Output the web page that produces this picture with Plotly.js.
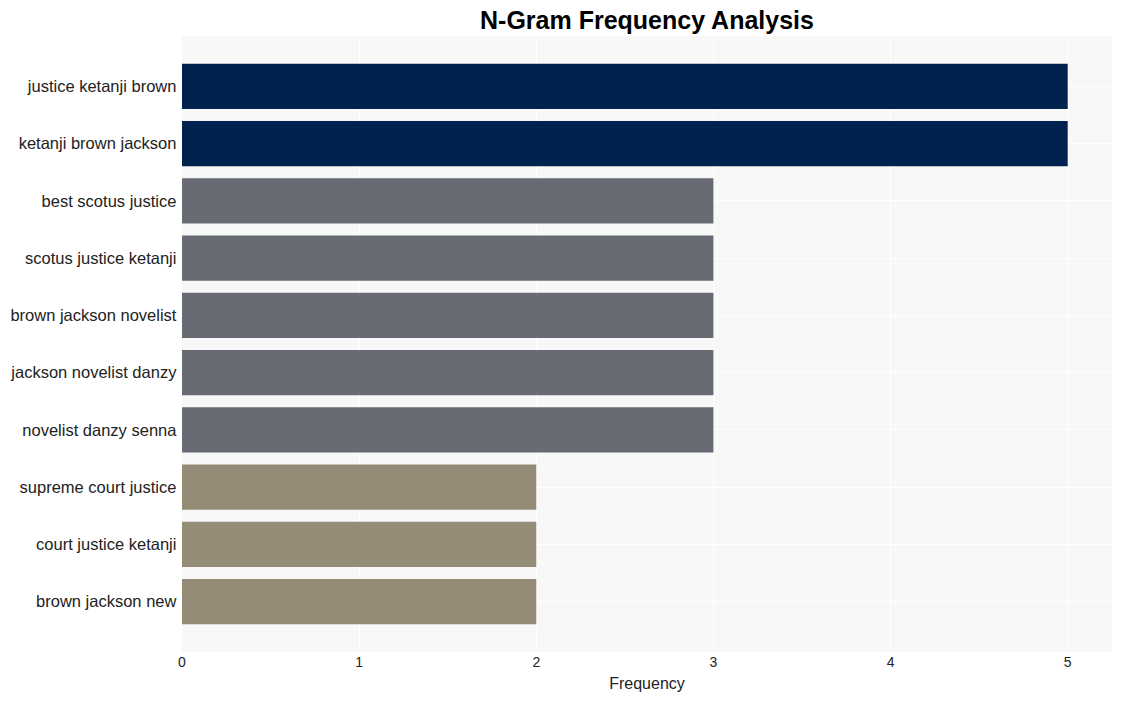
<!DOCTYPE html>
<html>
<head>
<meta charset="utf-8">
<script src="https://cdn.plot.ly/plotly-3.0.1.min.js"></script>
<style>html,body{margin:0;padding:0;background:#fff;}#chart{width:1122px;height:701px;}</style>
</head>
<body>
<div id="chart"></div>
<script>
const categories = [
  "justice ketanji brown",
  "ketanji brown jackson",
  "best scotus justice",
  "scotus justice ketanji",
  "brown jackson novelist",
  "jackson novelist danzy",
  "novelist danzy senna",
  "supreme court justice",
  "court justice ketanji",
  "brown jackson new"
];
const frequencies = [5, 5, 3, 3, 3, 3, 3, 2, 2, 2];
const barColors = ["#00224e", "#00224e", "#686b73", "#686b73", "#686b73", "#686b73", "#686b73", "#948c76", "#948c76", "#948c76"];
const xTicks = [0, 1, 2, 3, 4, 5];

const trace = {
  type: "bar",
  orientation: "h",
  y: categories,
  x: frequencies,
  marker: {color: barColors},
  hoverinfo: "x+y"
};

const layout = {
  width: 1122,
  height: 701,
  margin: {l: 182, r: 10, t: 36, b: 49},
  paper_bgcolor: "#ffffff",
  plot_bgcolor: "#f8f8f8",
  font: {family: "'Liberation Sans', Arial, sans-serif", color: "#222"},
  title: {text: "<b>N-Gram Frequency Analysis</b>", x: 0.5, xref: "paper", xanchor: "center", y: 0.9715, yref: "container", yanchor: "middle", font: {size: 25, color: "#000"}},
  bargap: 0.21,
  showlegend: false,
  xaxis: {
    range: [0, 5.25],
    tickvals: xTicks,
    gridcolor: "#ffffff",
    gridwidth: 1,
    zeroline: false,
    tickfont: {size: 14, color: "#222"},
    title: {text: "Frequency", font: {size: 16, color: "#222"}, standoff: 8}
  },
  yaxis: {
    range: [9.88, -0.88],
    type: "category",
    gridcolor: "#ffffff",
    tickfont: {size: 16.5, color: "#222"},
    ticksuffix: " ",
    automargin: false
  }
};

Plotly.newPlot("chart", [trace], layout, {displayModeBar: false, staticPlot: true});
</script>
</body>
</html>
